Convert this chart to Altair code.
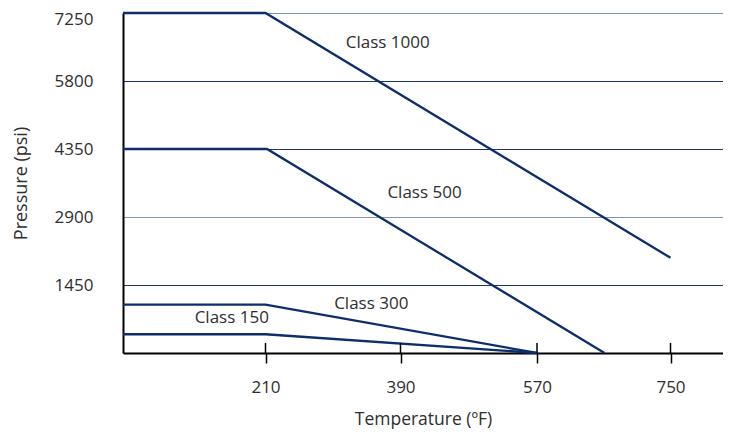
import altair as alt
import pandas as pd

classes = ["Class 1000", "Class 500", "Class 300", "Class 150"]
temps = {
    "Class 1000": [20, 210, 750],
    "Class 500": [20, 212, 662],
    "Class 300": [20, 210, 572],
    "Class 150": [20, 210, 572],
}
pressures = {
    "Class 1000": [7250, 7250, 2030],
    "Class 500": [4350, 4350, 0],
    "Class 300": [1030, 1030, 0],
    "Class 150": [400, 400, 0],
}
label_temp = [373, 422, 351, 165]
label_press = [6610, 3410, 1045, 745]
x_ticks = [210, 390, 572, 750]
y_ticks = [1450, 2900, 4350, 5800, 7250]

rows = []
for c in classes:
    for i, (t, p) in enumerate(zip(temps[c], pressures[c])):
        rows.append({"cls": c, "t": t, "p": p, "o": i})
lines_df = pd.DataFrame(rows)
labels_df = pd.DataFrame({"cls": classes, "t": label_temp, "p": label_press})
ticks_df = pd.DataFrame({"t": x_ticks, "p0": [0] * 4, "p1": [215] * 4})

FONT = "Open Sans"
NAVY = "#0d2d6b"
TXT = "#2e2e2e"
FS = 17

xscale = alt.Scale(domain=[20, 820], nice=False, zero=False)
yscale = alt.Scale(domain=[0, 7250], nice=False)

xaxis = alt.Axis(
    values=x_ticks, title="Temperature (ºF)", grid=False,
    labelExpr="datum.value == 572 ? '570' : format(datum.value, 'd')",
    tickSize=10, tickColor="black", tickWidth=1.5,
    domainColor="black", domainWidth=2,
    labelPadding=16, labelFontSize=FS, labelFont=FONT, labelColor=TXT,
    titleFont=FONT, titleFontSize=17.5, titleFontWeight="normal", titleColor=TXT,
    titlePadding=15,
)
yaxis = alt.Axis(
    values=y_ticks, title="Pressure (psi)", ticks=False, format="d",
    grid=True, gridWidth=1.2,
    gridColor={"condition": {"test": "datum.value == 2900 || datum.value == 7250", "value": "#7f96b8"}, "value": "#1c3767"},
    domainColor="black", domainWidth=2,
    labelOffset={"condition": {"test": "datum.value == 7250", "value": 6}, "value": 0},
    labelPadding=30, labelFontSize=FS, labelFont=FONT, labelColor=TXT,
    titleFont=FONT, titleFontSize=18, titleFontWeight="normal", titleColor=TXT,
    titlePadding=24,
)

lines = alt.Chart(lines_df).mark_line(color=NAVY, strokeWidth=2.3).encode(
    x=alt.X("t:Q", scale=xscale, axis=xaxis),
    y=alt.Y("p:Q", scale=yscale, axis=yaxis),
    detail="cls:N",
    order="o:Q",
)

labels = alt.Chart(labels_df).mark_text(
    font=FONT, fontSize=FS, color=TXT, align="center", baseline="middle"
).encode(x="t:Q", y="p:Q", text="cls:N")

ticks_up = alt.Chart(ticks_df).mark_rule(color="black", strokeWidth=1.5).encode(
    x="t:Q", y="p0:Q", y2="p1:Q"
)

chart = alt.layer(lines, ticks_up, labels).properties(
    width=600, height=340,
    autosize=alt.AutoSizeParams(type="none"),
    padding={"left": 115, "top": 5, "right": 0, "bottom": 76},
).configure_view(stroke=None)

chart.save("out.html", embed_options={"renderer": "svg", "actions": False})
